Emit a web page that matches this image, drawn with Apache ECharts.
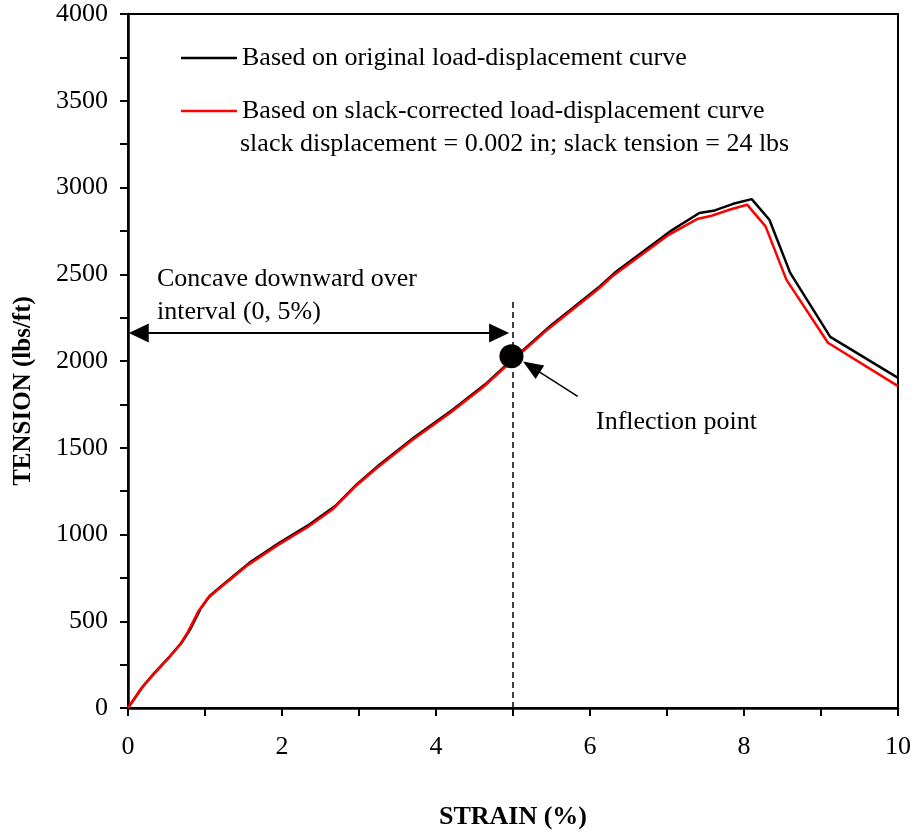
<!DOCTYPE html>
<html>
<head>
<meta charset="utf-8">
<script src="https://cdn.jsdelivr.net/npm/echarts@6/dist/echarts.min.js"></script>
<style>
  html, body { margin: 0; padding: 0; background: #fff; }
  #chart { width: 914px; height: 835px; }
</style>
</head>
<body>
<div id="chart"></div>
<script>
// original load-displacement curve
const strainOriginal = [0, 0.2, 0.35, 0.55, 0.7, 0.81, 0.94, 1.06, 1.19, 1.37, 1.58, 1.97, 2.36, 2.69, 2.97, 3.27, 3.71, 4.22, 4.66, 4.92, 5.2, 5.48, 6.13, 6.32, 7.04, 7.42, 7.62, 7.86, 8.1, 8.33, 8.6, 9.12, 10]
const tensionOriginal = [0, 128, 205, 301, 378, 455, 570, 646, 695, 761, 838, 954, 1059, 1164, 1289, 1404, 1558, 1721, 1874, 1980, 2090, 2200, 2431, 2508, 2747, 2853, 2868, 2906, 2933, 2814, 2508, 2139, 1903]

// slack-corrected curve
const strainCorrected = [0, 0.17, 0.32, 0.52, 0.67, 0.78, 0.91, 1.03, 1.16, 1.34, 1.55, 1.94, 2.33, 2.66, 2.94, 3.24, 3.68, 4.19, 4.63, 4.89, 5.17, 5.45, 6.1, 6.29, 7.01, 7.39, 7.58, 7.82, 8.04, 8.28, 8.55, 9.09, 10]
const tensionCorrected = [0, 112, 188, 285, 362, 440, 555, 630, 680, 745, 822, 937, 1042, 1146, 1272, 1386, 1540, 1703, 1856, 1962, 2072, 2182, 2412, 2488, 2724, 2818, 2837, 2873, 2901, 2776, 2469, 2105, 1855]

const xTicks = [0, 2, 4, 6, 8, 10]
const yTicks = [0, 500, 1000, 1500, 2000, 2500, 3000, 3500, 4000]

// annotation anchors (data space; arrowheads are centred on their end points)
const inflectionPt = [4.98, 2028]
const intervalArrow = [[0.14, 2162], [4.82, 2162]]
const dashedLine = [[5, 0], [5, 2354]]
const pointerArrow = [[5.84, 1796], [5.24, 1966]]

const FONT = 'Liberation Serif'

function pairs(xs, ys) {
  return xs.map((x, i) => [x, ys[i]])
}

const chart = echarts.init(document.getElementById('chart'))

const option = {
  backgroundColor: '#fff',
  animation: false,
  grid: {
    left: 128,
    right: 16,
    top: 14,
    bottom: 126,
    show: true,
    borderColor: '#000',
    borderWidth: 2
  },
  legend: {
    data: ['Based on original load-displacement curve', 'Based on slack-corrected load-displacement curve'],
    orient: 'vertical',
    left: 176,
    top: 38,
    icon: 'rect',
    itemWidth: 56,
    itemHeight: 2.5,
    itemGap: 23,
    textStyle: { fontFamily: FONT, fontSize: 26, color: '#000', lineHeight: 30 }
  },
  xAxis: {
    type: 'value',
    min: 0,
    max: 10,
    interval: 1,
    name: 'STRAIN (%)',
    nameLocation: 'middle',
    nameGap: 96,
    nameTextStyle: { fontFamily: FONT, fontSize: 26, fontWeight: 'bold', color: '#000' },
    axisLine: { lineStyle: { color: '#000', width: 2.5 } },
    axisTick: { inside: false, length: 8, lineStyle: { color: '#000', width: 2 } },
    axisLabel: {
      margin: 26,
      fontFamily: FONT,
      fontSize: 26,
      color: '#000',
      formatter: v => (xTicks.includes(v) ? String(v) : '')
    },
    splitLine: { show: false }
  },
  yAxis: {
    type: 'value',
    min: 0,
    max: 4000,
    interval: 250,
    name: 'TENSION (lbs/ft)',
    nameLocation: 'middle',
    nameGap: 92,
    nameTextStyle: { fontFamily: FONT, fontSize: 25, fontWeight: 'bold', color: '#000', padding: [0, 60, 0, 0] },
    axisLine: { show: true, lineStyle: { color: '#000', width: 2.5 } },
    axisTick: { show: true, inside: false, length: 8, lineStyle: { color: '#000', width: 2 } },
    axisLabel: {
      margin: 20,
      fontFamily: FONT,
      fontSize: 26,
      color: '#000',
      formatter: v => (yTicks.includes(v) ? String(v) : '')
    },
    splitLine: { show: false }
  },
  graphic: [
    { type: 'text', left: 240, top: 131, style: { text: 'slack displacement = 0.002 in; slack tension = 24 lbs', font: '26px "Liberation Serif"', fill: '#000' } },
    { type: 'text', left: 157, top: 266, style: { text: 'Concave downward over', font: '26px "Liberation Serif"', fill: '#000' } },
    { type: 'text', left: 157, top: 299, style: { text: 'interval (0, 5%)', font: '26px "Liberation Serif"', fill: '#000' } },
    { type: 'text', left: 596, top: 409, style: { text: 'Inflection point', font: '26px "Liberation Serif"', fill: '#000' } }
  ],
  series: [
    {
      name: 'Based on original load-displacement curve',
      type: 'line',
      data: pairs(strainOriginal, tensionOriginal),
      symbol: 'none',
      color: '#000',
      lineStyle: { color: '#000', width: 2.5 }
    },
    {
      name: 'Based on slack-corrected load-displacement curve',
      type: 'line',
      data: pairs(strainCorrected, tensionCorrected),
      symbol: 'none',
      color: '#ff0000',
      lineStyle: { color: '#ff0000', width: 2.5 }
    },
    {
      name: 'Inflection',
      type: 'scatter',
      data: [inflectionPt],
      symbol: 'circle',
      symbolSize: 24,
      itemStyle: { color: '#000', opacity: 1 },
      emphasis: { disabled: true },
      z: 5,
      markLine: {
        silent: true,
        animation: false,
        label: { show: false },
        emphasis: { disabled: true },
        data: [
          [
            { coord: dashedLine[0], symbol: 'none', lineStyle: { type: [6, 4], width: 1.5, color: '#000' } },
            { coord: dashedLine[1], symbol: 'none' }
          ],
          [
            { coord: intervalArrow[0], symbol: 'triangle', symbolSize: [19, 20], lineStyle: { type: 'solid', width: 2, color: '#000' } },
            { coord: intervalArrow[1], symbol: 'triangle', symbolSize: [19, 20] }
          ],
          [
            { coord: pointerArrow[0], symbol: 'none', lineStyle: { type: 'solid', width: 1.5, color: '#000' } },
            { coord: pointerArrow[1], symbol: 'triangle', symbolSize: [16, 20] }
          ]
        ],
        itemStyle: { color: '#000' }
      }
    }
  ]
}

chart.setOption(option)
</script>
</body>
</html>
